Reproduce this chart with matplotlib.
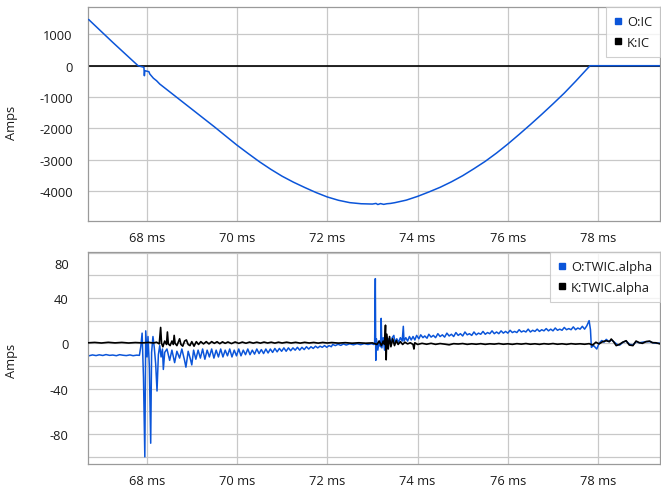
import matplotlib
matplotlib.use("Agg")
import matplotlib.pyplot as plt
from matplotlib.lines import Line2D
from matplotlib.transforms import ScaledTranslation

plt.rcParams['font.family'] = ['Open Sans', 'DejaVu Sans']

# ---------------- data ----------------
x_ticks = [68, 70, 72, 74, 76, 78]
x_tick_labels = ["68 ms", "70 ms", "72 ms", "74 ms", "76 ms", "78 ms"]

top_y_ticks = [-4000, -3000, -2000, -1000, 0, 1000]
top_y_labels = ["-4000", "-3000", "-2000", "-1000", "0", "1000"]

bot_y_grid = [-100, -80, -60, -40, -20, 0, 20, 40, 60, 80]
bot_y_labels = ["", "-80", "", "-40", "", "0", "", "40", "", "80"]

# O:IC
t_ic_o = [66.72, 67.25, 67.81, 67.94, 67.95, 67.96, 68.05, 68.07, 68.15, 68.22,
          68.29, 68.50, 68.75, 69.00, 69.25, 69.50, 69.75, 70.00, 70.25, 70.50,
          70.75, 71.00, 71.25, 71.50, 71.75, 72.00, 72.25, 72.50, 72.75, 73.00,
          73.08, 73.12, 73.18, 73.25, 73.32, 73.40, 73.50, 73.75, 74.00, 74.25,
          74.50, 74.75, 75.00, 75.25, 75.50, 75.75, 76.00, 76.25, 76.50, 76.75,
          77.00, 77.25, 77.50, 77.82, 79.37]
ic_o = [1470, 745, 0, -50, -320, -160, -190, -265, -400, -480,
        -585, -822, -1105, -1387, -1670, -1952, -2245, -2537, -2807, -3070,
        -3310, -3530, -3720, -3890, -4051, -4193, -4300, -4375, -4410, -4420,
        -4400, -4435, -4405, -4430, -4410, -4400, -4375, -4295, -4175, -4035,
        -3885, -3710, -3514, -3290, -3055, -2790, -2502, -2195, -1880, -1555,
        -1220, -875, -500, 0, 0]
# K:IC
t_ic_k = [66.70, 79.37]
ic_k = [0, 0]

# O:TWIC.alpha
t_al_o = [66.72, 66.80, 66.88, 66.95, 67.03, 67.10, 67.18, 67.25, 67.33, 67.40,
          67.48, 67.55, 67.63, 67.70, 67.78, 67.84,
          67.87, 67.90, 67.93, 67.96, 67.98, 68.01, 68.03, 68.06, 68.09, 68.11,
          68.14, 68.17, 68.20, 68.23, 68.26, 68.29, 68.32, 68.35, 68.37, 68.40,
          68.45, 68.51, 68.56, 68.62, 68.67, 68.73, 68.78, 68.84, 68.87, 68.92,
          68.97, 69.00, 69.04, 69.09, 69.14, 69.19, 69.24, 69.29, 69.34, 69.39,
          69.44, 69.49, 69.54, 69.59, 69.64, 69.69, 69.74, 69.79, 69.84, 69.89,
          69.94, 69.99, 70.04, 70.09, 70.14, 70.19, 70.24, 70.29, 70.34, 70.39,
          70.44, 70.49, 70.54, 70.59, 70.64, 70.69, 70.74, 70.79, 70.84, 70.89,
          70.94, 70.99, 71.04, 71.09, 71.14, 71.19, 71.24, 71.29, 71.34, 71.39,
          71.44, 71.49, 71.54, 71.59, 71.64, 71.69, 71.74, 71.79, 71.84, 71.89,
          71.94, 71.99, 72.04, 72.09, 72.12, 72.18, 72.24, 72.30, 72.36, 72.42,
          72.50, 72.58, 72.66, 72.74, 72.82, 72.90, 72.98, 73.03,
          73.05, 73.065, 73.075, 73.09, 73.12, 73.15, 73.18, 73.195, 73.21, 73.24,
          73.27, 73.30, 73.33, 73.36, 73.40, 73.44, 73.475, 73.50, 73.54, 73.58,
          73.62, 73.66, 73.685, 73.70, 73.74, 73.78, 73.82, 73.86, 73.90, 73.94,
          73.98,
          74.03, 74.07, 74.12, 74.16, 74.21, 74.25, 74.30, 74.35, 74.40, 74.45,
          74.50, 74.55, 74.60, 74.65, 74.70, 74.75, 74.80, 74.85, 74.90, 74.95,
          75.00, 75.05, 75.10, 75.15, 75.20, 75.25, 75.30, 75.35, 75.40, 75.45,
          75.50, 75.55, 75.60, 75.65, 75.70, 75.75, 75.80, 75.85, 75.90, 75.95,
          76.00, 76.05, 76.10, 76.15, 76.20, 76.25, 76.30, 76.35, 76.40, 76.45,
          76.50, 76.55, 76.60, 76.65, 76.70, 76.75, 76.80, 76.85, 76.90, 76.95,
          77.00, 77.05, 77.10, 77.15, 77.20, 77.25, 77.30, 77.35, 77.40, 77.45,
          77.50, 77.55, 77.60, 77.65, 77.70, 77.75, 77.80, 77.83,
          77.85, 77.90, 77.97, 78.02, 78.08, 78.13, 78.18, 78.24, 78.30, 78.36,
          78.42, 78.48, 78.55, 78.62, 78.70, 78.77, 78.84, 78.91, 78.98, 79.06,
          79.14, 79.22, 79.30, 79.37]
al_o = [-11.0, -10.2, -10.8, -10.1, -10.7, -9.9, -10.6, -10.3, -10.9, -10.0,
        -10.5, -10.8, -10.2, -10.9, -10.4, -10.6,
        -3, 9, -30, -100, 11, -12, 6, -20, -88, -8,
        6, -4, -18, -42, -10, -2, -12, -5, -23, -8,
        -5, -15, -6, -17, -7, -13, -5, -15, -21, -7,
        -14, -19, -6, -14, -6, -13, -5, -14, -6, -12,
        -5, -13, -6, -12, -5, -12, -6, -11, -5, -12,
        -6, -11, -5, -11, -6, -10, -5, -10, -6, -9.5,
        -5, -9, -5.5, -9, -5, -8.5, -5, -8, -4.5, -7.5,
        -4.5, -7, -4, -7, -4, -6.5, -4, -6, -3.5, -6,
        -3.5, -5.5, -3, -5, -3, -4.5, -2.5, -4, -2.5, -3.5,
        -2, -3.5, -2, -3, -1, -2, -0.8, -1.8, -0.5, -1.5,
        -0.4, -1.3, -0.3, -1.2, -0.2, -1.0, -0.3, -1.0,
        0, 57, -15, 4, -6, 2, -3, 22, -4, 5,
        -6, 7, -3, 4, 0, 5, 7, 1, 4, 1,
        5, 2, 15, 2, 5, 2, 6, 3, 6, 3,
        7,
        4.0, 7.5, 5.0, 6.5, 4.5, 8.0, 5.5, 7.0, 5.0, 8.5,
        6.0, 7.5, 5.5, 9.0, 6.5, 8.0, 6.0, 9.5, 7.0, 8.5,
        6.5, 10.0, 7.5, 8.5, 7.0, 10.0, 7.5, 9.0, 8.0, 10.5,
        8.0, 9.5, 8.5, 11.0, 8.5, 10.0, 8.5, 11.0, 9.0, 10.5,
        9.0, 11.5, 9.5, 10.5, 9.5, 12.0, 10.0, 11.0, 10.0, 12.5,
        10.0, 11.5, 10.5, 12.5, 10.5, 12.0, 11.0, 13.0, 11.0, 12.5,
        11.0, 13.5, 11.5, 12.5, 11.5, 14.0, 12.0, 13.0, 12.0, 14.5,
        12.0, 13.5, 12.5, 15.0, 12.5, 15.5, 20, 12,
        -3.5, -2, -5, 0, 2.5, 1, 3.5, 1.5, 3, 1,
        -1, -1.5, 1, 2, -1, -1.5, 1.5, 0.5, 1, 1.5,
        1.5, 0.5, 0, 0.3]

# K:TWIC.alpha
t_al_k = [66.72, 66.85, 67.00, 67.15, 67.30, 67.45, 67.60, 67.75, 67.90, 68.05,
          68.15, 68.22, 68.28, 68.31, 68.33, 68.36, 68.40, 68.44, 68.46, 68.48,
          68.52, 68.56, 68.59, 68.61, 68.63, 68.67, 68.70, 68.73, 68.76, 68.80,
          68.84, 68.88, 68.92, 68.96, 69.00, 69.05, 69.10, 69.15, 69.20, 69.26,
          69.32, 69.38, 69.44, 69.50, 69.56, 69.62, 69.68, 69.74, 69.80, 69.88,
          69.96, 70.04, 70.12, 70.20, 70.28, 70.36, 70.44, 70.52, 70.60, 70.68,
          70.76, 70.84, 70.92, 71.00, 71.10, 71.20, 71.30, 71.40, 71.50, 71.60,
          71.70, 71.80, 71.90, 72.00, 72.10, 72.25, 72.40, 72.55, 72.70, 72.85,
          73.00, 73.10, 73.15, 73.20, 73.24, 73.27, 73.29, 73.305, 73.32, 73.35,
          73.38, 73.41, 73.45, 73.49, 73.53, 73.57, 73.62, 73.67, 73.72, 73.78,
          73.84, 73.90, 73.92, 73.94, 74.00, 74.10, 74.20, 74.30, 74.40, 74.50,
          74.60, 74.70, 74.80, 74.90, 75.00, 75.10, 75.20, 75.30, 75.40, 75.50,
          75.60, 75.70, 75.80, 75.90, 76.00, 76.10, 76.20, 76.30, 76.40, 76.50,
          76.60, 76.70, 76.80, 76.90, 77.00, 77.10, 77.20, 77.30, 77.40, 77.50,
          77.60, 77.70, 77.80, 77.88, 77.95, 78.02, 78.10, 78.18, 78.25, 78.29,
          78.34, 78.40, 78.47, 78.54, 78.62, 78.69, 78.77, 78.84, 78.91, 78.98,
          79.06, 79.14, 79.20, 79.28, 79.37]
al_k = [0.5, 0.8, 0.3, 0.9, 0.4, 0.8, 0.3, 0.7, 0.4, 0.8,
        0.3, 1.0, -0.5, 14, 0, -3, 2, -1, 10, -0.5,
        -2, 2, -1, 7, 0, -2, 1, 4, -1, -2.5,
        2, 3, -1, -2, 1.5, -2.5, 1.5, -1, 1.5, -0.5,
        1.5, -0.5, 1.5, 0, 1.4, -0.3, 1.3, 0, 1.2, -0.2,
        1.2, 0, 1.1, 0.1, 1.1, 0.2, 1.0, 0.2, 1.1, 0.3,
        1.0, 0.2, 1.0, 0.3, 1.0, 0.3, 0.9, 0.2, 0.9, 0.3,
        0.8, 0.2, 0.8, 0.3, 0.7, 0.2, 0.6, 0.1, 0.5, 0.1,
        0.4, -1, 2, -2, 2, -1, 16, -14.5, 8, -5,
        6, -3, 4, -2, 2.5, -1, 1.5, -1, 1, -0.5,
        0.5, -1, -5, 0.5, -1, 0, -0.8, 0, -0.9, -0.2,
        -0.7, -1.3, -0.3, -0.6, -0.2, -0.9, -0.4, -0.8, -0.3, -0.9,
        -0.4, -0.7, -0.2, -0.8, -0.4, -0.9, -0.3, -0.7, -0.2, -0.8,
        -0.4, -0.9, -0.3, -0.7, -0.2, -0.8, -0.4, -0.9, -0.3, -0.7,
        -0.4, -0.8, -0.3, -1.5, 1, -0.5, 1.5, 2.3, 1.5, 3.8,
        1.5, -2, -1, 0.9, 2.3, -1.5, -2, 2, 0.6, 0,
        1.5, 2, 0.6, 0.5, -0.5]

top_labels = ["O:IC", "K:IC"]
bot_labels = ["O:TWIC.alpha", "K:TWIC.alpha"]

# ---------------- style ----------------
BLUE = '#0b55d9'
BLACK = '#000000'
GRID = '#c8c8c8'
FRAME = '#9a9a9a'
TEXT = '#1a1a1a'
FS = 9.3

fig = plt.figure(figsize=(6.61, 4.89), dpi=100)
fig.patch.set_facecolor('white')

ax1 = fig.add_axes([88.3 / 661, (489 - 222.3) / 489, (660 - 88.3) / 661, (222.3 - 8.3) / 489])
ax2 = fig.add_axes([88.3 / 661, (489 - 465) / 489, (660 - 88.3) / 661, (465 - 253.3) / 489])

for ax in (ax1, ax2):
    ax.set_facecolor('white')
    for s in ax.spines.values():
        s.set_color(FRAME)
        s.set_linewidth(0.9)
    ax.grid(True, color=GRID, linewidth=0.9)
    ax.set_axisbelow(True)
    ax.set_xlim(66.708, 79.37)
    ax.set_xticks(x_ticks)
    ax.set_xticklabels(x_tick_labels)
    ax.tick_params(axis='both', length=0, labelsize=FS, colors=TEXT)
    ax.tick_params(axis='x', pad=7)

# top
ax1.plot(t_ic_k, ic_k, color=BLACK, linewidth=1.2, label=top_labels[1], zorder=2)
ax1.plot(t_ic_o, ic_o, color=BLUE, linewidth=1.1, label=top_labels[0], zorder=3)
ax1.set_ylim(-4971, 1866)
ax1.set_yticks(top_y_ticks)
ax1.set_yticklabels(top_y_labels)
ax1.tick_params(axis='y', pad=11.2)
ax1.set_ylabel("Amps", fontsize=FS, color=TEXT)
ax1.yaxis.set_label_coords(-0.123, 0.464)

# bottom
ax2.plot(t_al_o, al_o, color=BLUE, linewidth=1.1, label=bot_labels[0], zorder=2)
ax2.plot(t_al_k, al_k, color=BLACK, linewidth=1.2, label=bot_labels[1], zorder=3)
ax2.set_ylim(-106.3, 80.2)
ax2.set_yticks(bot_y_grid)
ax2.set_yticklabels(bot_y_labels)
ax2.tick_params(axis='y', pad=14)
ax2.set_ylabel("Amps", fontsize=FS, color=TEXT)
ax2.yaxis.set_label_coords(-0.123, 0.491)
for lab in ax2.get_yticklabels():
    if lab.get_text() == "80":
        lab.set_transform(lab.get_transform() + ScaledTranslation(0, -0.10, fig.dpi_scale_trans))


def make_legend(ax, labels):
    handles = [Line2D([], [], linestyle='none', marker='s', markersize=5,
                      markerfacecolor=c, markeredgecolor=c) for c in (BLUE, BLACK)]
    leg = ax.legend(handles, labels, loc='upper right', bbox_to_anchor=(1.0, 1.0),
                    borderaxespad=0, fontsize=FS, frameon=True, fancybox=False,
                    handlelength=0.6, handletextpad=0.4, labelspacing=0.6,
                    borderpad=0.6)
    leg.get_frame().set_edgecolor('#c4c4c4')
    leg.get_frame().set_linewidth(0.8)
    leg.set_zorder(10)
    for t in leg.get_texts():
        t.set_color(TEXT)
    return leg


make_legend(ax1, top_labels)
make_legend(ax2, bot_labels)

fig.savefig("out.png", dpi=100, facecolor='white')
